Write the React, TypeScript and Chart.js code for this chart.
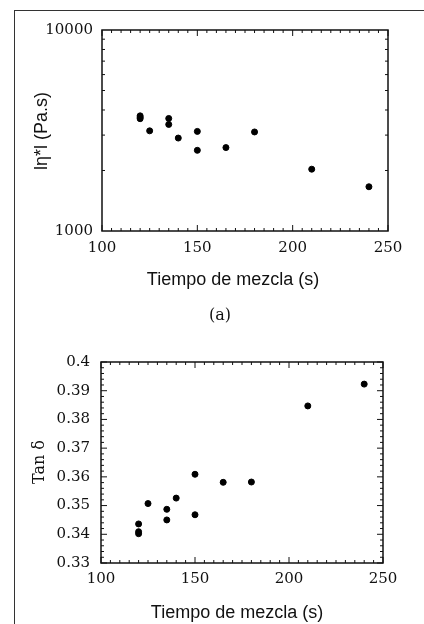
import React, { useEffect, useRef } from 'react';
import { Chart, registerables } from 'chart.js';

Chart.register(...registerables);

// ---- data ----
const mixTimesA = [120, 120, 120, 125, 135, 135, 140, 150, 150, 165, 180, 210, 240];
const viscosityA = [3740, 3680, 3620, 3150, 3630, 3390, 2900, 3130, 2520, 2600, 3110, 2030, 1660];

const mixTimesB = [120, 120, 120, 125, 135, 135, 140, 150, 150, 165, 180, 210, 240];
const tanDeltaB = [0.3436, 0.3409, 0.3402, 0.3507, 0.3487, 0.345, 0.3526, 0.3609, 0.3468, 0.3581, 0.3582, 0.3847, 0.3923];

const xTickLabels = [100, 150, 200, 250];
const yTickLabelsA = [1000, 10000];
const yTickLabelsB = [0.33, 0.34, 0.35, 0.36, 0.37, 0.38, 0.39, 0.4];

const xMinorTicks = Array.from({ length: 31 }, (_, i) => 100 + i * 5);
const yMinorTicksA = [2000, 3000, 4000, 5000, 6000, 7000, 8000, 9000];
const yMinorTicksB = Array.from({ length: 36 }, (_, i) => Math.round((0.33 + i * 0.002) * 1000) / 1000);

const tickFont = { family: 'DejaVu Serif', size: 15 };
const ink = '#111';

const boxTicks = {
  id: 'boxTicks',
  afterDraw(chart: any, _args: any, opts: any) {
    const { ctx, chartArea: a, scales } = chart;
    const xs = scales.x;
    const ys = scales.y;
    ctx.save();
    ctx.strokeStyle = ink;
    ctx.lineWidth = 1;
    const line = (x1: number, y1: number, x2: number, y2: number) => {
      ctx.beginPath();
      ctx.moveTo(x1, y1);
      ctx.lineTo(x2, y2);
      ctx.stroke();
    };
    (opts.xMinor || []).forEach((v: number) => {
      const p = xs.getPixelForValue(v);
      const len = (opts.xMajor || []).includes(v) ? 6 : 3;
      line(p, a.bottom, p, a.bottom - len);
      line(p, a.top, p, a.top + len);
    });
    (opts.yMinor || []).forEach((v: number) => {
      const p = ys.getPixelForValue(v);
      const len = (opts.yMajor || []).some((m: number) => Math.abs(m - v) < 1e-9) ? 6 : 3;
      line(a.left, p, a.left + len, p);
      line(a.right, p, a.right - len, p);
    });
    ctx.lineWidth = 1.5;
    ctx.strokeRect(a.left, a.top, a.right - a.left, a.bottom - a.top);
    ctx.restore();
  },
};

function xScale(height: number, pad: number) {
  return {
    type: 'linear',
    min: 100,
    max: 250,
    afterBuildTicks: (s: any) => {
      s.ticks = xTickLabels.map((v) => ({ value: v }));
    },
    afterFit: (s: any) => {
      s.height = height;
    },
    ticks: { font: tickFont, color: ink, padding: pad, maxRotation: 0, autoSkip: false, callback: (v: any) => String(v) },
    grid: { display: false, drawTicks: false },
    border: { display: false },
  };
}

function scatterConfig(
  xs: number[],
  ys: number[],
  yScale: any,
  xHeight: number,
  xPad: number,
  padTop: number,
  padRight: number,
  tickOpts: any
) {
  return {
    type: 'scatter',
    data: {
      datasets: [
        {
          data: xs.map((x, i) => ({ x, y: ys[i] })),
          backgroundColor: '#000',
          borderColor: '#000',
          borderWidth: 1,
          pointRadius: 3,
          pointHoverRadius: 3,
        },
      ],
    },
    options: {
      responsive: false,
      animation: false,
      devicePixelRatio: 1,
      layout: { padding: { top: padTop, right: padRight, left: 0, bottom: 0 } },
      plugins: { legend: { display: false }, tooltip: { enabled: false }, boxTicks: tickOpts },
      scales: { x: xScale(xHeight, xPad), y: yScale },
    },
    plugins: [boxTicks],
  } as any;
}

function ScatterCanvas(props: { top: number; height: number; build: () => any }) {
  const ref = useRef<HTMLCanvasElement | null>(null);
  useEffect(() => {
    if (!ref.current) return;
    const chart = new Chart(ref.current, props.build());
    return () => chart.destroy();
  }, []);
  return (
    <canvas
      ref={ref}
      width={424}
      height={props.height}
      style={{ position: 'absolute', left: 0, top: props.top, width: 424, height: props.height }}
    />
  );
}

const textBase: React.CSSProperties = {
  position: 'absolute',
  whiteSpace: 'nowrap',
  color: ink,
  lineHeight: 1.15,
};

function Label(props: { x: number; y: number; text: string; font: string; size: number; rotate?: boolean }) {
  return (
    <div
      style={{
        ...textBase,
        left: props.x,
        top: props.y,
        fontFamily: props.font,
        fontSize: props.size,
        transform: `translate(-50%, -50%)${props.rotate ? ' rotate(-90deg)' : ''}`,
      }}
    >
      {props.text}
    </div>
  );
}

export default function App() {
  const buildA = () =>
    scatterConfig(
      mixTimesA,
      viscosityA,
      {
        type: 'logarithmic',
        min: 1000,
        max: 10000,
        afterBuildTicks: (s: any) => {
          s.ticks = yTickLabelsA.map((v) => ({ value: v }));
        },
        afterFit: (s: any) => {
          s.width = 102;
        },
        ticks: { font: tickFont, color: ink, padding: 9, autoSkip: false, callback: (v: any) => String(v) },
        grid: { display: false, drawTicks: false },
        border: { display: false },
      },
      69,
      8,
      30,
      36,
      { xMinor: xMinorTicks, xMajor: xTickLabels, yMinor: yMinorTicksA, yMajor: [] }
    );

  const buildB = () =>
    scatterConfig(
      mixTimesB,
      tanDeltaB,
      {
        type: 'linear',
        min: 0.33,
        max: 0.4,
        afterBuildTicks: (s: any) => {
          s.ticks = yTickLabelsB.map((v) => ({ value: v }));
        },
        afterFit: (s: any) => {
          s.width = 101;
        },
        ticks: { font: tickFont, color: ink, padding: 11, autoSkip: false, callback: (v: any) => String(Number(Number(v).toFixed(2))) },
        grid: { display: false, drawTicks: false },
        border: { display: false },
      },
      61,
      7,
      42,
      41,
      { xMinor: xMinorTicks, xMajor: xTickLabels, yMinor: yMinorTicksB, yMajor: yTickLabelsB }
    );

  return (
    <div style={{ position: 'absolute', left: 0, top: 0, width: 424, height: 624, overflow: 'hidden', background: '#fff' }}>
      <div
        style={{
          position: 'absolute',
          left: 14,
          top: 10,
          width: 420,
          height: 620,
          borderLeft: '1px solid #333',
          borderTop: '1px solid #333',
        }}
      />
      <ScatterCanvas top={0} height={300} build={buildA} />
      <ScatterCanvas top={320} height={304} build={buildB} />
      <Label x={41} y={131} text="lη*l (Pa.s)" font="'Liberation Sans', Arial, sans-serif" size={18} rotate />
      <Label x={233} y={279} text="Tiempo de mezcla (s)" font="'Liberation Sans', Arial, sans-serif" size={18} />
      <Label x={220} y={315} text="(a)" font="'DejaVu Serif', serif" size={16} />
      <Label x={39} y={462} text="Tan δ" font="'DejaVu Serif', serif" size={16} rotate />
      <Label x={237} y={612} text="Tiempo de mezcla (s)" font="'Liberation Sans', Arial, sans-serif" size={18} />
    </div>
  );
}
